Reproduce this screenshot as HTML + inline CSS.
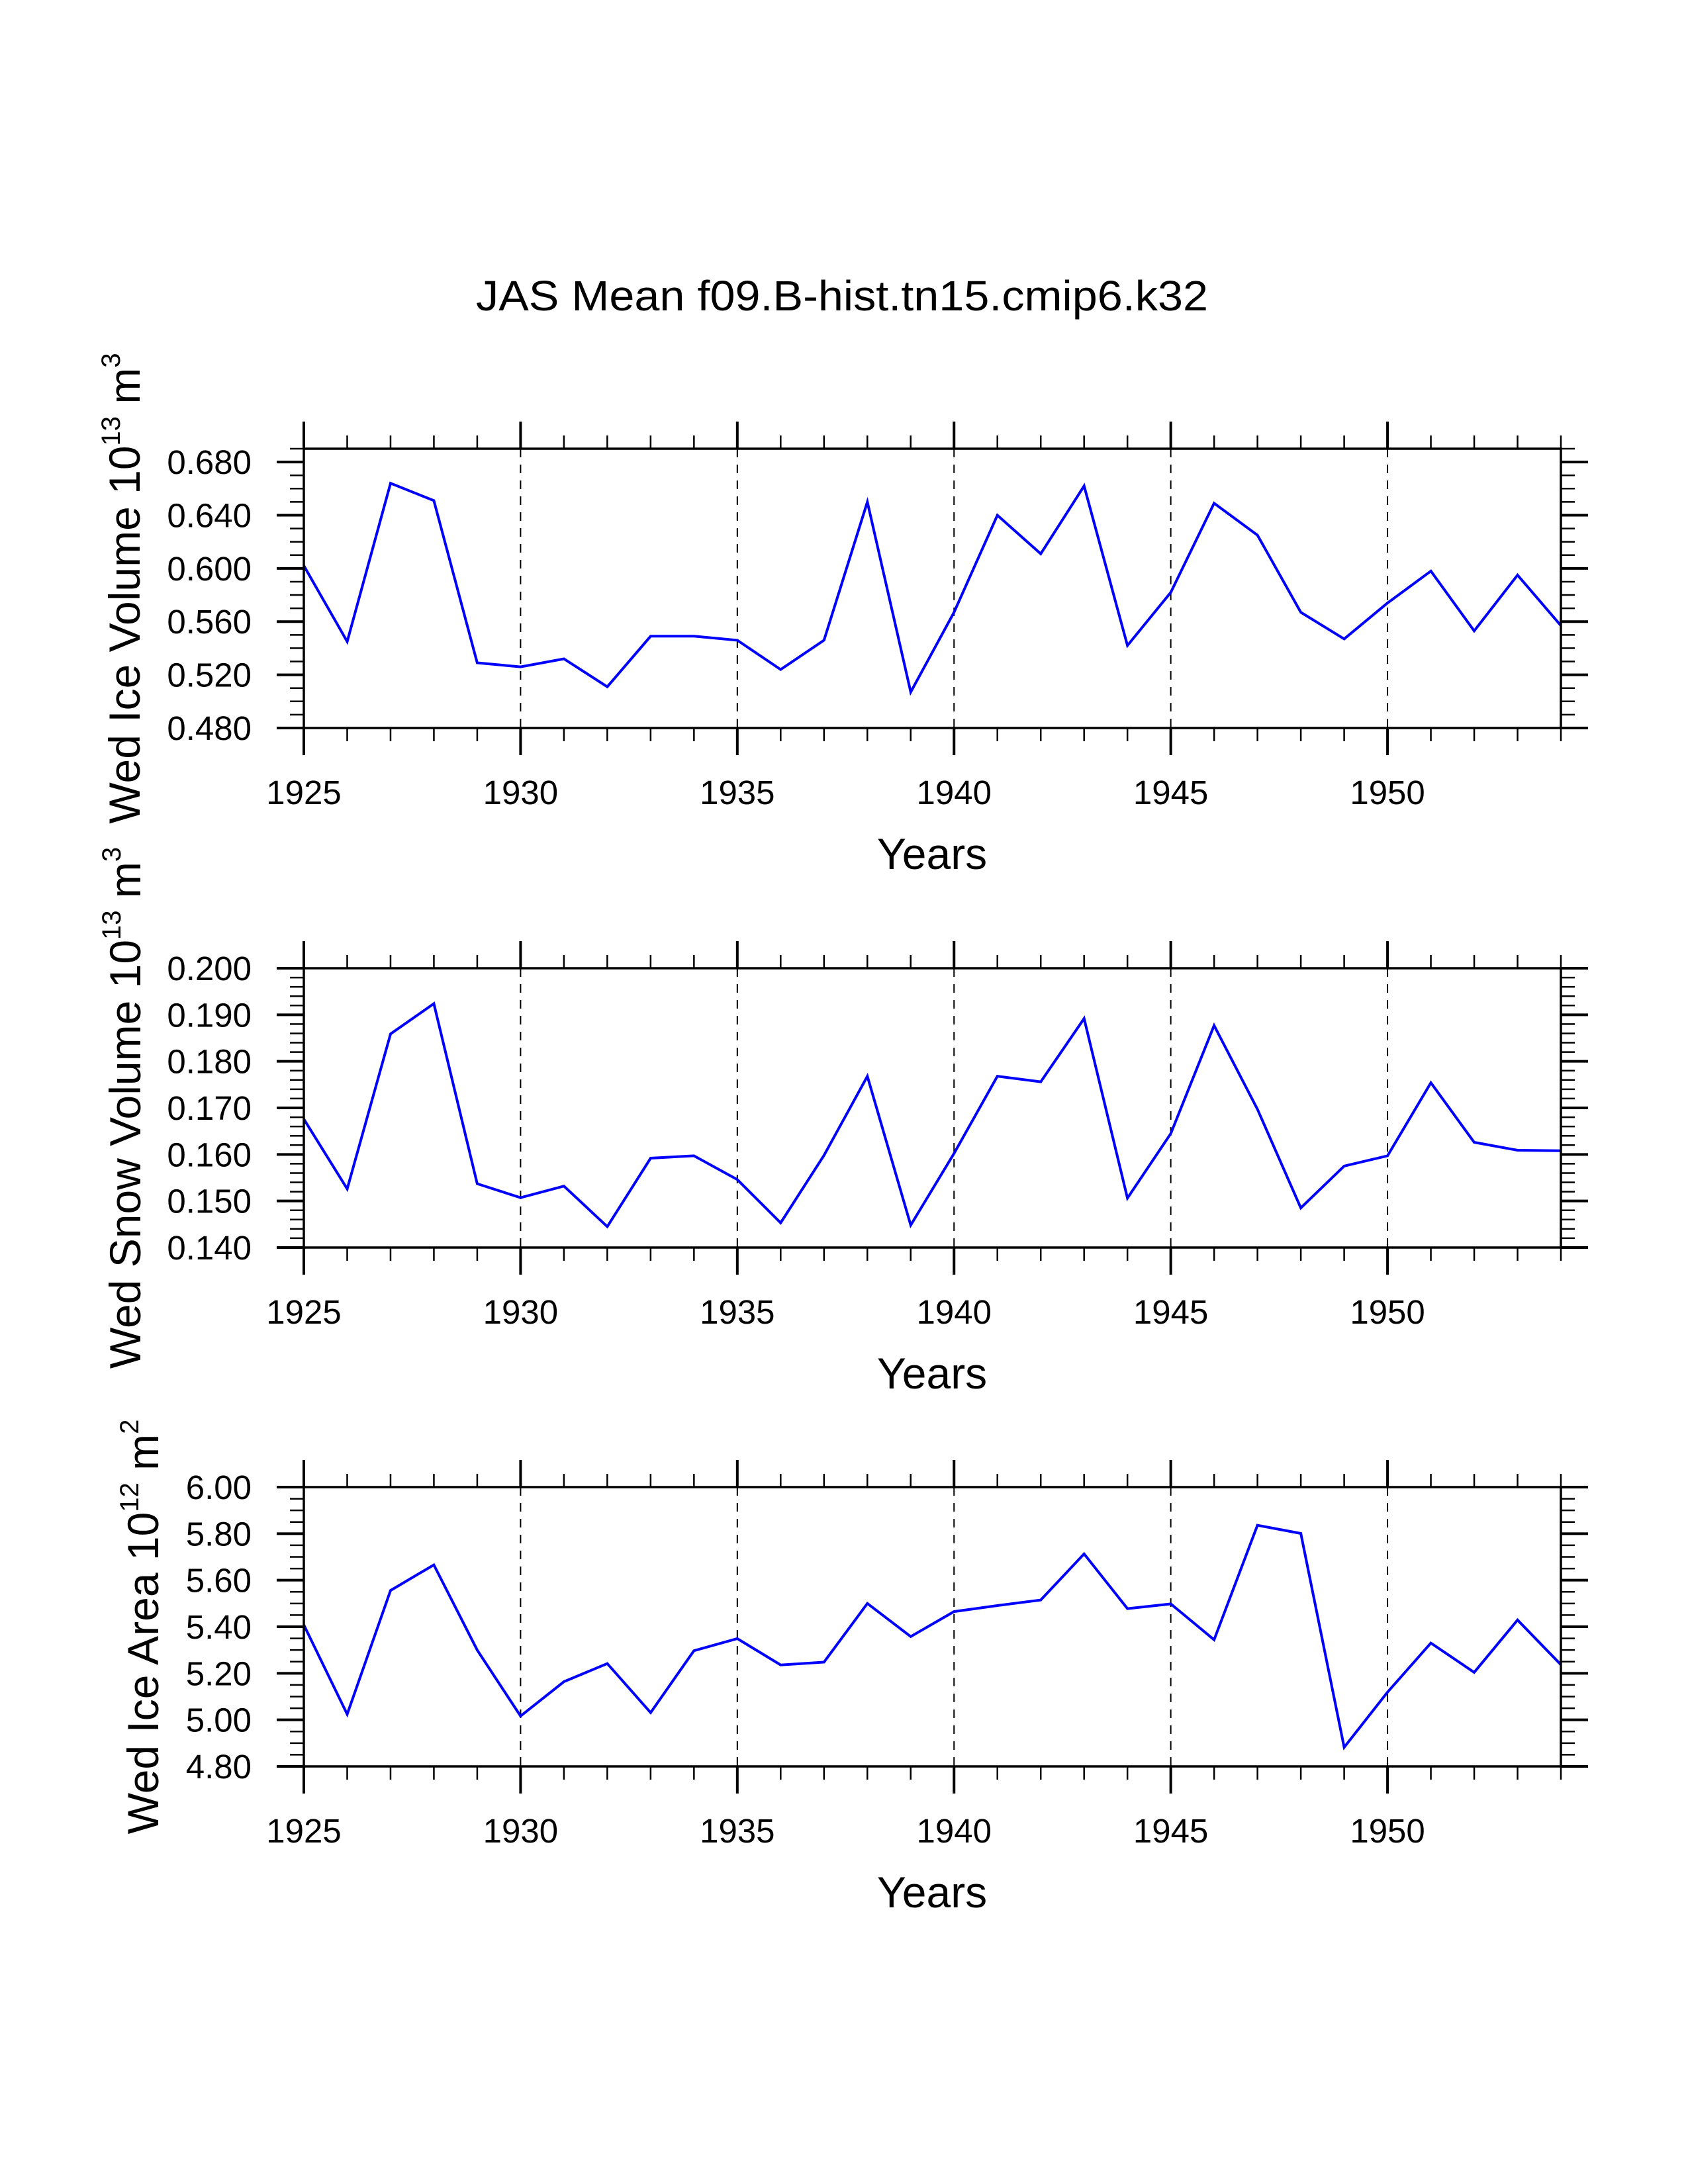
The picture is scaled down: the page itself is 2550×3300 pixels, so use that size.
<!DOCTYPE html>
<html><head><meta charset="utf-8">
<style>
html,body{margin:0;padding:0;background:#fff;}
svg{display:block;font-family:"Liberation Sans",sans-serif;}
</style></head>
<body>
<svg id="chart" width="2550" height="3300" viewBox="0 0 2550 3300" xmlns="http://www.w3.org/2000/svg">
<rect width="2550" height="3300" fill="#fff"/>
<text x="1272" y="469" font-size="64" text-anchor="middle" textLength="1106" lengthAdjust="spacingAndGlyphs">JAS Mean f09.B-hist.tn15.cmip6.k32</text>
</svg>
<script>
const years = [1925,1926,1927,1928,1929,1930,1931,1932,1933,1934,1935,1936,1937,1938,1939,1940,1941,1942,1943,1944,1945,1946,1947,1948,1949,1950,1951,1952,1953,1954];
const iceVolume = [0.602,0.545,0.664,0.651,0.529,0.526,0.532,0.511,0.549,0.549,0.546,0.524,0.546,0.650,0.507,0.567,0.640,0.611,0.662,0.542,0.582,0.649,0.625,0.567,0.547,0.574,0.598,0.553,0.595,0.557];
const snowVolume = [0.1676,0.1526,0.1859,0.1924,0.1537,0.1507,0.1532,0.1445,0.1592,0.1597,0.1546,0.1453,0.1598,0.1768,0.1448,0.1602,0.1768,0.1756,0.1892,0.1506,0.1645,0.1877,0.1697,0.1485,0.1575,0.1597,0.1754,0.1626,0.1609,0.1608];
const iceArea = [5.408,5.024,5.556,5.666,5.30,5.016,5.164,5.242,5.031,5.297,5.349,5.236,5.248,5.500,5.358,5.465,5.491,5.515,5.713,5.478,5.498,5.344,5.836,5.801,4.882,5.119,5.330,5.204,5.429,5.237];
const xTickLabels = ["1925","1930","1935","1940","1945","1950"];
const iceVolumeTicks = ["0.480","0.520","0.560","0.600","0.640","0.680"];
const snowVolumeTicks = ["0.140","0.150","0.160","0.170","0.180","0.190","0.200"];
const iceAreaTicks = ["4.80","5.00","5.20","5.40","5.60","5.80","6.00"];
const gridYears = [1930,1935,1940,1945,1950];

const NS = "http://www.w3.org/2000/svg";
const svg = document.getElementById('chart');
const X0 = 459, X1 = 2358, XMIN = 1925, XMAX = 1954;
function xs(v){ return X0 + (v - XMIN) / (XMAX - XMIN) * (X1 - X0); }
function mk(tag, attrs, parent){
  const e = document.createElementNS(NS, tag);
  for (const k in attrs) e.setAttribute(k, attrs[k]);
  (parent || svg).appendChild(e);
  return e;
}
function line(g, x1,y1,x2,y2,w,name){
  const l = mk('line',{x1:x1,y1:y1,x2:x2,y2:y2,stroke:'#000','stroke-width':w},g);
  
  
  return l;
}

const panels = [
  {name:'ice-volume', top:678, bot:1100, ymin:0.48, ymax:0.69, major:0.04, minor:0.01, ticks:iceVolumeTicks, values:iceVolume,
   label:['Wed Ice Volume 10','13',' m','3'], lx:211},
  {name:'snow-volume', top:1463, bot:1885, ymin:0.14, ymax:0.20, major:0.01, minor:0.002, ticks:snowVolumeTicks, values:snowVolume,
   label:['Wed Snow Volume 10','13',' m','3'], lx:212},
  {name:'ice-area', top:2247, bot:2669, ymin:4.80, ymax:6.00, major:0.2, minor:0.05, ticks:iceAreaTicks, values:iceArea,
   label:['Wed Ice Area 10','12',' m','2'], lx:239}
];

panels.forEach(p => {
  const g = mk('g',{});
  
  
  const ys = v => p.bot - (v - p.ymin) / (p.ymax - p.ymin) * (p.bot - p.top);

  // dashed grid lines
  gridYears.forEach(yr => {
    const d = mk('line',{x1:xs(yr),y1:p.top,x2:xs(yr),y2:p.bot,stroke:'#000','stroke-width':2,'stroke-dasharray':'13,11'},g);
    
    
  });

  // x ticks (top and bottom, outward)
  for (let yr = XMIN; yr <= XMAX; yr++) {
    const isMaj = (yr % 5 === 0);
    const len = isMaj ? 41 : 20, w = isMaj ? 4 : 2.5;
    line(g, xs(yr), p.top, xs(yr), p.top - len, w, 'x-tick-top');
    line(g, xs(yr), p.bot, xs(yr), p.bot + len, w, 'x-tick-bottom');
  }
  // y ticks
  const nMinor = Math.round((p.ymax - p.ymin) / p.minor);
  const ratio = Math.round(p.major / p.minor);
  const majOff = Math.round(((Math.ceil(p.ymin/p.major - 1e-9)*p.major) - p.ymin)/p.minor);
  for (let i = 0; i <= nMinor; i++) {
    const v = p.ymin + i * p.minor;
    const isMaj = ((i - majOff) % ratio === 0);
    const len = isMaj ? 41 : 21, w = isMaj ? 4 : 2.5;
    line(g, X0, ys(v), X0 - len, ys(v), w, 'y-tick-left');
    line(g, X1, ys(v), X1 + len, ys(v), w, 'y-tick-right');
  }
  // y tick labels
  p.ticks.forEach(t => {
    const tx = mk('text',{x:380,y:ys(parseFloat(t))+18,'font-size':51,'text-anchor':'end'},g);
    
    
    tx.textContent = t;
  });
  // x tick labels
  xTickLabels.forEach(t => {
    const tx = mk('text',{x:xs(parseFloat(t)),y:p.bot+115,'font-size':51,'text-anchor':'middle'},g);
    
    
    tx.textContent = t;
  });
  // x axis title
  const xt = mk('text',{x:1408,y:p.bot+213,'font-size':66,'text-anchor':'middle'},g);
  
  
  xt.textContent = 'Years';
  // y axis title
  const cy = (p.top + p.bot) / 2;
  const yt = mk('text',{x:0,y:0,'font-size':66,'text-anchor':'middle',transform:`translate(${p.lx},${cy}) rotate(-90)`},g);
  
  
  const parts = p.label;
  const t1 = mk('tspan',{},yt); t1.textContent = parts[0];
  const t2 = mk('tspan',{'font-size':40,dy:-30},yt); t2.textContent = parts[1];
  const t3 = mk('tspan',{dy:30},yt); t3.textContent = parts[2];
  const t4 = mk('tspan',{'font-size':40,dy:-30},yt); t4.textContent = parts[3];

  // data line
  const pts = years.map((yr,i) => xs(yr).toFixed(1) + ',' + ys(p.values[i]).toFixed(1)).join(' ');
  const pl = mk('polyline',{points:pts,fill:'none',stroke:'#0000ff','stroke-width':4,'stroke-linejoin':'miter'},g);
  
  

  // frame
  const fr = mk('rect',{x:X0,y:p.top,width:X1-X0,height:p.bot-p.top,fill:'none',stroke:'#000','stroke-width':3.5},g);
  
  
});
</script>
</body></html>
